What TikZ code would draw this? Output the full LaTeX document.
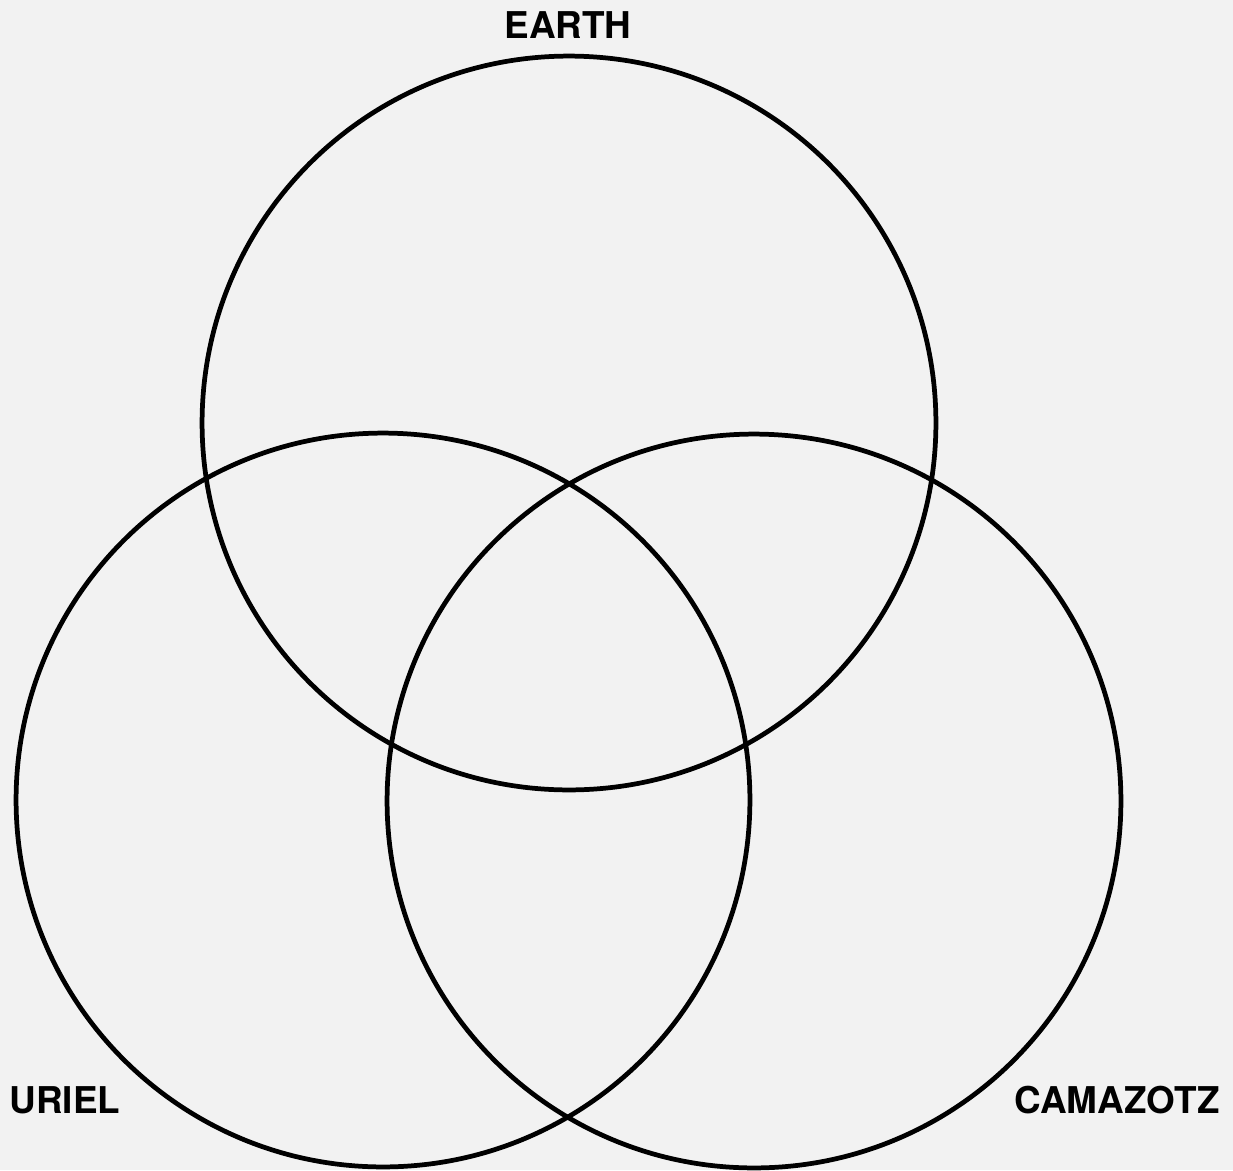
\documentclass[tikz,border=0pt]{standalone}
\usepackage{fontspec}
\setmainfont{TeX Gyre Heros}
\definecolor{paper}{HTML}{F2F2F2}
\begin{document}
\begin{tikzpicture}[x=0.02cm, y=-0.02cm, line width=2.7pt]
  \tikzstyle{setcircle} = [circle, draw, inner sep=0pt, minimum size=14.68cm]
  \tikzstyle{setlabel} = [font=\bfseries\fontsize{21}{25}\selectfont, inner sep=0pt]

  \fill[paper] (0,0) rectangle (1233,1170);
  \useasboundingbox (0,0) rectangle (1233,1170);

  \node [setcircle] (earth) at (569,423) {};
  \node [setcircle] (uriel) at (383,800) {};
  \node [setcircle] (camazotz) at (754,801) {};

  \node [setlabel] (earthname) at (568,25) {EARTH};
  \node [setlabel] (urielname) at (65,1100) {URIEL};
  \node [setlabel] (camazotzname) at (1117,1100) {CAMAZOTZ};
\end{tikzpicture}
\end{document}
